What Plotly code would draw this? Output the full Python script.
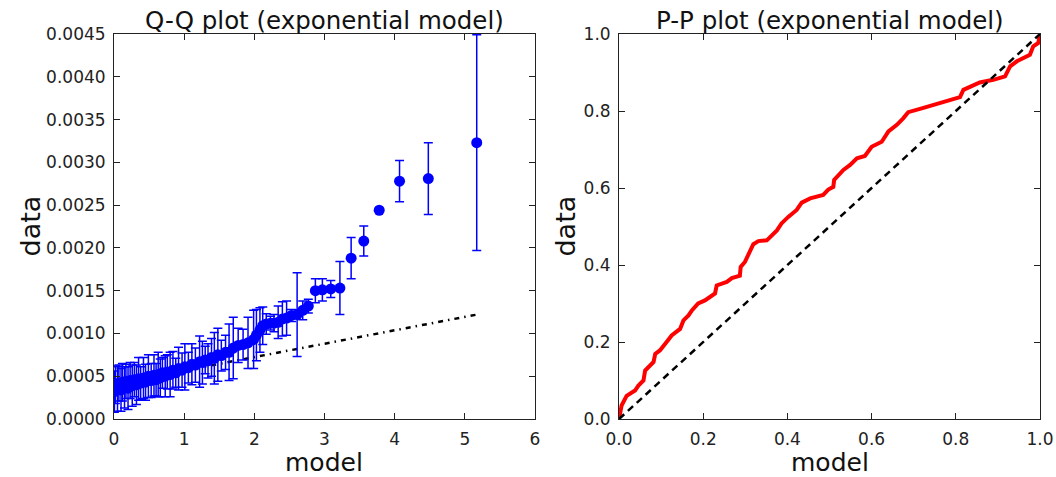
import plotly.graph_objects as go

# ---------------- data ----------------
qq_model = [0.006, 0.02, 0.05, 0.07, 0.10, 0.12, 0.15, 0.17, 0.20, 0.23, 0.26, 0.29, 0.32, 0.35,
            0.38, 0.42, 0.45, 0.49, 0.53, 0.57, 0.60, 0.63, 0.66, 0.69, 0.73, 0.76, 0.80, 0.84,
            0.88, 0.92, 0.97, 1.01, 1.06, 1.11, 1.16, 1.22, 1.26, 1.30, 1.34, 1.39, 1.43, 1.48,
            1.53, 1.59, 1.64, 1.70, 1.77, 1.84, 1.91, 1.99, 2.03, 2.08, 2.12, 2.17, 2.23, 2.28,
            2.34, 2.40, 2.46, 2.53, 2.61, 2.69, 2.77, 2.87, 2.97, 3.09, 3.22, 3.38, 3.56, 3.78,
            4.07, 4.48, 5.17]
qq_data = [0.00032, 0.00040, 0.00035, 0.00042, 0.00034, 0.00043, 0.00037, 0.00044, 0.00036,
           0.00045, 0.00039, 0.00046, 0.00040, 0.00047, 0.00042, 0.00048, 0.00043, 0.00050,
           0.00045, 0.00051, 0.00046, 0.00052, 0.00048, 0.00054, 0.00050, 0.00055, 0.00052,
           0.00057, 0.00054, 0.00059, 0.00057, 0.00061, 0.00060, 0.00064, 0.00063, 0.00067,
           0.00066, 0.00069, 0.00068, 0.00072, 0.00071, 0.00075, 0.00074, 0.00078, 0.00078,
           0.00083, 0.00086, 0.00087, 0.00089, 0.00093, 0.00098, 0.00104, 0.00109, 0.00111,
           0.00112, 0.00112, 0.00113, 0.00117, 0.00118, 0.00121, 0.00122, 0.00127, 0.00132,
           0.00150, 0.00151, 0.00152, 0.00153, 0.00188, 0.00208, 0.00244, 0.00278, 0.00281,
           0.00323]
qq_err = [0.00024, 0.00022, 0.00026, 0.00021, 0.00025, 0.00022, 0.00024, 0.00020, 0.00025,
          0.00021, 0.00024, 0.00020, 0.00023, 0.00025, 0.00019, 0.00024, 0.00021, 0.00025,
          0.00020, 0.00024, 0.00019, 0.00026, 0.00022, 0.00018, 0.00024, 0.00020, 0.00026,
          0.00022, 0.00017, 0.00025, 0.00020, 0.00027, 0.00018, 0.00024, 0.00020, 0.00030,
          0.00025, 0.00016, 0.00020, 0.00022, 0.00030, 0.00031, 0.00018, 0.00020, 0.00033,
          0.00036, 0.00020, 0.00018, 0.00030, 0.00034, 0.00030, 0.00026, 0.00022, 0.00012,
          0.00008, 0.00010, 0.00019, 0.00020, 0.00020, 0.00007, 0.00049, 0.00011, 0.00008,
          0.00014, 0.00013, 0.00010, 0.00031, 0.00024, 0.000175, 0.00001, 0.00024, 0.00042,
          0.00126]

qq_ref_model = [0.0, 5.17]
qq_ref_data = [0.00041, 0.00122]

pp_model = [0.0, 0.006, 0.018, 0.038, 0.046, 0.058, 0.062, 0.082, 0.086, 0.097, 0.113, 0.125,
            0.145, 0.153, 0.165, 0.173, 0.188, 0.204, 0.228, 0.232, 0.256, 0.268, 0.287, 0.289,
            0.299, 0.307, 0.319, 0.331, 0.351, 0.375, 0.386, 0.402, 0.422, 0.434, 0.454, 0.485,
            0.497, 0.509, 0.511, 0.533, 0.549, 0.565, 0.584, 0.600, 0.624, 0.640, 0.660, 0.675,
            0.687, 0.719, 0.762, 0.786, 0.810, 0.818, 0.834, 0.857, 0.889, 0.917, 0.929, 0.945,
            0.976, 0.984, 0.996, 0.998, 1.0]
pp_data = [0.0, 0.035, 0.060, 0.074, 0.087, 0.100, 0.126, 0.148, 0.169, 0.178, 0.200, 0.217,
           0.234, 0.256, 0.269, 0.282, 0.300, 0.308, 0.326, 0.347, 0.356, 0.366, 0.372, 0.395,
           0.408, 0.425, 0.454, 0.462, 0.464, 0.490, 0.508, 0.525, 0.543, 0.562, 0.573, 0.582,
           0.596, 0.603, 0.621, 0.647, 0.660, 0.677, 0.683, 0.707, 0.720, 0.747, 0.764, 0.781,
           0.797, 0.807, 0.820, 0.829, 0.836, 0.855, 0.864, 0.874, 0.881, 0.890, 0.916, 0.929,
           0.946, 0.968, 0.977, 0.998, 1.0]
pp_ref = [0.0, 1.0]

# ---------------- figure ----------------
FONT = "DejaVu Sans"
fig = go.Figure()

fig.add_trace(go.Scatter(x=qq_ref_model, y=qq_ref_data, mode="lines",
                         line=dict(color="black", width=2.5, dash="5px,5px,1.5px,5px"),
                         xaxis="x", yaxis="y", showlegend=False))
fig.add_trace(go.Scatter(x=qq_model, y=qq_data, mode="markers",
                         marker=dict(color="#0000ff", size=11, line=dict(width=0)),
                         error_y=dict(type="data", array=qq_err, symmetric=True,
                                      color="#0000ff", thickness=1.5, width=4.5),
                         xaxis="x", yaxis="y", showlegend=False))

fig.add_trace(go.Scatter(x=pp_model, y=pp_data, mode="lines",
                         line=dict(color="#ff0000", width=4),
                         xaxis="x2", yaxis="y2", showlegend=False))
fig.add_trace(go.Scatter(x=pp_ref, y=pp_ref, mode="lines",
                         line=dict(color="black", width=2.5, dash="7px,5px"),
                         xaxis="x2", yaxis="y2", showlegend=False))

axis_common = dict(showgrid=False, zeroline=False, showline=True, linecolor="#222",
                   linewidth=1, mirror="ticks", ticks="inside", ticklen=6, tickcolor="#222",
                   automargin=False,
                   tickfont=dict(family=FONT, size=17, color="#222"))

fig.update_layout(
    width=1056, height=477,
    margin=dict(l=114, r=16, t=34, b=58, autoexpand=False),
    paper_bgcolor="white", plot_bgcolor="white",
    xaxis=dict(domain=[0, 0.4546], range=[0, 6], dtick=1, tickformat="d",
               ticklabelstandoff=5, anchor="y", **axis_common),
    yaxis=dict(domain=[0, 1], range=[0, 0.0045], dtick=0.0005, tickformat=".4f",
               ticklabelstandoff=4, anchor="x", **axis_common),
    xaxis2=dict(domain=[0.5454, 1], range=[0, 1], dtick=0.2, tickformat=".1f",
                ticklabelstandoff=5, anchor="y2", **axis_common),
    yaxis2=dict(domain=[0, 1], range=[0, 1], dtick=0.2, tickformat=".1f",
                ticklabelstandoff=4, anchor="x2", **axis_common),
)

ann = []
for xr, yr, title, dx in [("x", "y", "Q-Q plot (exponential model)", -84),
                          ("x2", "y2", "P-P plot (exponential model)", -54)]:
    ann.append(dict(text=title, xref=f"{xr} domain", yref=f"{yr} domain", x=0.5, y=1,
                    xanchor="center", yanchor="bottom", yshift=-3, showarrow=False,
                    font=dict(family=FONT, size=24.5, color="#111")))
    ann.append(dict(text="model", xref=f"{xr} domain", yref=f"{yr} domain", x=0.5, y=0,
                    xanchor="center", yanchor="middle", yshift=-43, showarrow=False,
                    font=dict(family=FONT, size=25, color="#111")))
    ann.append(dict(text="data", xref=f"{xr} domain", yref=f"{yr} domain", x=0, y=0.5,
                    xanchor="center", yanchor="middle", xshift=dx, textangle=-90,
                    showarrow=False, font=dict(family=FONT, size=27, color="#111")))
fig.update_layout(annotations=ann)

fig.write_html("out.html")
